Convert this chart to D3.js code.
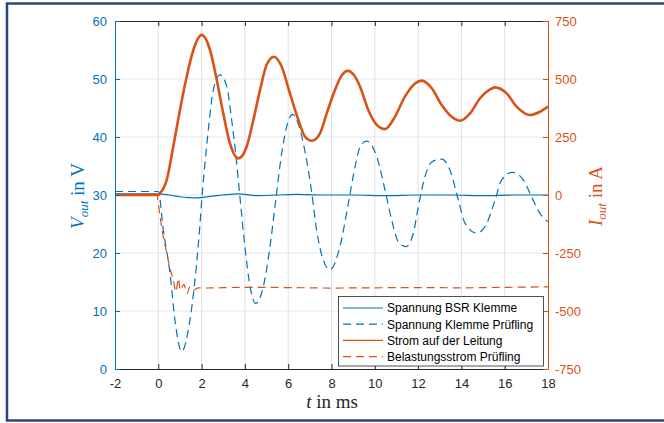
<!DOCTYPE html>
<html>
<head>
<meta charset="utf-8">
<script src="https://cdn.jsdelivr.net/npm/d3@7"></script>
<style>
  html, body { margin: 0; padding: 0; background: #fff; }
  svg { display: block; }
</style>
</head>
<body>
<svg id="chart" width="664" height="423"></svg>
<script>
// Time base in ms and axis ticks
const xTicks = [-2, 0, 2, 4, 6, 8, 10, 12, 14, 16, 18];
const vTicks = [0, 10, 20, 30, 40, 50, 60];
const iTicks = [-750, -500, -250, 0, 250, 500, 750];

// Spannung BSR Klemme (V)
const tBsr = [-2, -1, 0, 0.5, 1.0, 1.7, 2.5, 3.0, 3.7, 4.5, 5.5, 6.4, 7.5, 9, 10.5, 12, 13.5, 15, 16.5, 18];
const vBsr = [30.2, 30.2, 30.2, 30.0, 29.7, 29.5, 29.8, 30.0, 30.2, 29.9, 30.0, 30.1, 30.0, 30.0, 29.9, 30.0, 30.0, 29.9, 30.0, 30.0];

// Spannung Klemme Prüfling (V)
const tDut = [-2, -1, 0, 0.23, 0.54, 0.77, 1.08, 1.46, 1.85, 2.06, 2.31, 2.54, 2.85, 3.16, 3.39, 3.59, 3.77, 4.0, 4.24, 4.5, 4.85, 5.16, 5.42, 5.7, 5.93, 6.2, 6.55, 6.85, 7.09, 7.31, 7.62, 7.92, 8.39, 8.78, 9.09, 9.32, 9.62, 10.09, 10.47, 10.78, 11.09, 11.44, 11.78, 12.01, 12.32, 12.63, 13.09, 13.47, 13.86, 14.17, 14.7, 15.17, 15.55, 15.86, 16.37, 16.86, 17.24, 17.63, 18];
const vDut = [30.6, 30.6, 30.6, 24, 16.5, 8.4, 3.0, 8.4, 21.5, 31.5, 41.2, 48.1, 50.7, 48.7, 42.9, 36.6, 29.7, 21.1, 14.2, 11.3, 14.2, 21.1, 29, 37.2, 41.8, 43.9, 41.2, 36, 30.3, 24, 18.8, 17.1, 21.1, 28.6, 34.9, 38.3, 39.3, 36.6, 30.9, 25.7, 21.9, 21.1, 23.4, 28.0, 33.2, 35.7, 36.2, 34.3, 29.1, 25.1, 23.4, 25.1, 29.1, 32.6, 33.9, 32.6, 29.7, 26.8, 25.4];

// Strom auf der Leitung (A)
const tLine = [-2, -1, 0, 0.08, 0.39, 0.69, 1.0, 1.31, 1.62, 2.0, 2.39, 2.7, 3.0, 3.31, 3.7, 4.08, 4.39, 4.7, 5.0, 5.34, 5.7, 6.08, 6.47, 6.78, 7.09, 7.47, 7.78, 8.16, 8.47, 8.75, 9.05, 9.32, 9.7, 10.09, 10.47, 10.93, 11.39, 11.86, 12.17, 12.63, 13.09, 13.55, 13.94, 14.4, 14.86, 15.32, 15.55, 16.09, 16.55, 17.17, 17.63, 18];
const iLine = [0, 0, 0, 7, 65, 208, 366, 510, 625, 690, 625, 496, 352, 223, 158, 208, 323, 453, 560, 596, 553, 438, 323, 251, 234, 266, 352, 453, 515, 535, 515, 467, 366, 302, 284, 337, 424, 481, 493, 460, 388, 337, 320, 352, 417, 455, 464, 438, 381, 345, 359, 381];

// Belastungsstrom Prüfling (A)
const tLoad = [-2, -1, -0.08, 0.08, 0.2, 0.39, 0.54, 0.69, 0.82, 0.92, 1.02, 1.18, 1.33, 1.46, 1.62, 1.85, 2, 4, 6, 8, 10, 12, 14, 16, 18];
const iLoad = [0, 0, 0, -93, -165, -251, -316, -366, -417, -360, -410, -385, -425, -395, -410, -400, -401, -398, -399, -401, -400, -399, -400, -398, -396];

const seriesNames = ["Spannung BSR Klemme", "Spannung Klemme Prüfling", "Strom auf der Leitung", "Belastungsstrom Prüfling"];

const BLUE = "#0072BD", ORANGE = "#D95319", DARK = "#262626";

const svg = d3.select("#chart");
const L = 115, R = 548, T = 21, B = 369;

const x = d3.scaleLinear().domain([-2, 18]).range([L, R]);
const yV = d3.scaleLinear().domain([0, 60]).range([B, T]);
const yI = d3.scaleLinear().domain([-750, 750]).range([B, T]);

svg.append("rect").attr("width", 664).attr("height", 423).attr("fill", "#fff");

// outer frame
svg.append("rect")
  .attr("x", 7).attr("y", 3.5).attr("width", 662).attr("height", 417)
  .attr("fill", "none").attr("stroke", "#27457f").attr("stroke-width", 2.5);

// grid
const grid = svg.append("g");
grid.selectAll("line.gx").data(xTicks.slice(1, -1)).join("line")
  .attr("x1", d => x(d)).attr("x2", d => x(d)).attr("y1", T).attr("y2", B)
  .attr("stroke", "#e0e0e0").attr("stroke-width", 1);
grid.selectAll("line.gy").data(vTicks.slice(1, -1)).join("line")
  .attr("x1", L).attr("x2", R).attr("y1", d => yV(d)).attr("y2", d => yV(d))
  .attr("stroke", "#dce8f3").attr("stroke-width", 1);

// clipped data lines
svg.append("clipPath").attr("id", "plotclip")
  .append("rect").attr("x", L).attr("y", T).attr("width", R - L).attr("height", B - T);
const plot = svg.append("g").attr("clip-path", "url(#plotclip)");

const lineV = d3.line().x(d => x(d[0])).y(d => yV(d[1])).curve(d3.curveMonotoneX);
const lineI = d3.line().x(d => x(d[0])).y(d => yI(d[1])).curve(d3.curveMonotoneX);

plot.append("path").datum(d3.zip(tBsr, vBsr)).attr("d", lineV)
  .attr("fill", "none").attr("stroke", BLUE).attr("stroke-width", 1.2);
plot.append("path").datum(d3.zip(tDut, vDut)).attr("d", lineV)
  .attr("fill", "none").attr("stroke", BLUE).attr("stroke-width", 1.2)
  .attr("stroke-dasharray", "8,5");
plot.append("path").datum(d3.zip(tLine, iLine)).attr("d", lineI)
  .attr("fill", "none").attr("stroke", ORANGE).attr("stroke-width", 2.6)
  .attr("stroke-linejoin", "round");
plot.append("path").datum(d3.zip(tLoad, iLoad)).attr("d", lineI)
  .attr("fill", "none").attr("stroke", ORANGE).attr("stroke-width", 1.2)
  .attr("stroke-dasharray", "8,5");

// axes (plain hyphen-minus in tick labels)
const font = "'Liberation Sans', Arial, Helvetica, sans-serif";
const fmt = d => String(d);
function styleAxis(g, color) {
  g.selectAll("path").attr("stroke", color).attr("stroke-width", 1);
  g.selectAll("line").attr("stroke", color);
  g.selectAll("text").attr("fill", color).style("font-family", font).style("font-size", "13px");
}

const xAxisB = svg.append("g").attr("transform", `translate(0,${B})`)
  .call(d3.axisBottom(x).tickValues(xTicks).tickSizeInner(-5).tickSizeOuter(0).tickPadding(10).tickFormat(fmt));
styleAxis(xAxisB, DARK);

const xAxisT = svg.append("g").attr("transform", `translate(0,${T})`)
  .call(d3.axisTop(x).tickValues(xTicks).tickSizeInner(-5).tickSizeOuter(0).tickFormat(""));
styleAxis(xAxisT, DARK);

const yAxisL = svg.append("g").attr("transform", `translate(${L},0)`)
  .call(d3.axisLeft(yV).tickValues(vTicks).tickSizeInner(-5).tickSizeOuter(0).tickPadding(8).tickFormat(fmt));
styleAxis(yAxisL, BLUE);

const yAxisR = svg.append("g").attr("transform", `translate(${R},0)`)
  .call(d3.axisRight(yI).tickValues(iTicks).tickSizeInner(-5).tickSizeOuter(0).tickPadding(7).tickFormat(fmt));
styleAxis(yAxisR, ORANGE);

// axis titles
const serif = "'Liberation Serif', 'Times New Roman', serif";
const xl = svg.append("text").attr("x", 332).attr("y", 408).attr("text-anchor", "middle")
  .style("font-family", serif).style("font-size", "19px").attr("fill", DARK);
xl.append("tspan").style("font-style", "italic").text("t");
xl.append("tspan").text(" in ms");

function yTitle(cx, cy, color, sym, unit) {
  const t = svg.append("text").attr("transform", `translate(${cx},${cy}) rotate(-90)`)
    .attr("text-anchor", "middle").style("font-family", serif).style("font-size", "19px").attr("fill", color);
  t.append("tspan").style("font-style", "italic").text(sym);
  t.append("tspan").style("font-style", "italic").style("font-size", "13px").attr("dy", 4).text("out");
  t.append("tspan").attr("dy", -4).text(" in " + unit);
}
yTitle(84, 196, BLUE, "V", "V");
yTitle(602, 196, ORANGE, "I", "A");

// legend
const lg = svg.append("g");
lg.append("rect").attr("x", 338.5).attr("y", 296.5).attr("width", 205).attr("height", 69.5)
  .attr("fill", "#fff").attr("stroke", DARK).attr("stroke-width", 0.8);
const styles = [
  { color: BLUE, dash: null },
  { color: BLUE, dash: "8,5" },
  { color: ORANGE, dash: null },
  { color: ORANGE, dash: "8,5" }
];
seriesNames.forEach((name, i) => {
  const yy = 308 + i * 16.2;
  lg.append("line").attr("x1", 343).attr("x2", 383).attr("y1", yy).attr("y2", yy)
    .attr("stroke", styles[i].color).attr("stroke-width", 1.2)
    .attr("stroke-dasharray", styles[i].dash);
  lg.append("text").attr("x", 387).attr("y", yy + 4.3).text(name)
    .style("font-family", font).style("font-size", "12px").attr("fill", "#000");
});
</script>
</body>
</html>
